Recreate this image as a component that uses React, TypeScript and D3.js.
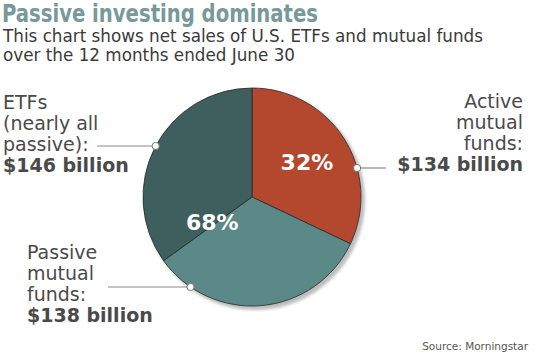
import React from 'react';
import * as d3 from 'd3';

const categories = ['Active mutual funds', 'Passive mutual funds', 'ETFs'];
const values = [134, 138, 146];
const labelLines = [['Active', 'mutual', 'funds:'], ['Passive', 'mutual', 'funds:'], ['ETFs', '(nearly all', 'passive):']];
const shareLabels = ['32%', '68%'];
const colors = ['#b4482e', '#5b8988', '#3f5e5e'];

const W = 550;
const H = 364;
const cx = 252;
const cy = 197;
const r = 109;
const font = "'DejaVu Sans', Verdana, sans-serif";

// label block layout: anchor x, first baseline, leader y, leader line end x
const labelPos = [
  { x: 523, y: 108, anchor: 'end', leadY: 168, lineX: 386 },
  { x: 27, y: 259, anchor: 'start', leadY: 287, lineX: 108 },
  { x: 3, y: 109, anchor: 'start', leadY: 146, lineX: 97 },
];
const lineH = 21;

export default function App() {
  const pie = d3.pie<number>().sort(null).value(d => d);
  const arcs = pie(values);
  const arc = d3.arc<d3.PieArcDatum<number>>().innerRadius(0).outerRadius(r);

  // 32% sits on the active slice, 68% on the combined passive slices
  const activeArc = arcs[0];
  const passiveArc = { startAngle: arcs[1].startAngle, endAngle: arcs[2].endAngle };
  const labelArcA = d3.arc().innerRadius(65).outerRadius(65);
  const labelArcP = d3.arc().innerRadius(47).outerRadius(47);
  const [ax, ay] = labelArcA.centroid(activeArc as any);
  const [px, py] = labelArcP.centroid(passiveArc as any);

  return (
    <div style={{ position: 'absolute', left: 0, top: 0 }}>
      <svg width={W} height={H} style={{ display: 'block', background: '#fff' }}>
        <defs>
          <filter id="sh" x="-20%" y="-20%" width="140%" height="140%">
            <feGaussianBlur stdDeviation="1.5" />
          </filter>
        </defs>
        <text x={2} y={22} fontFamily="'Liberation Sans Narrow', 'DejaVu Sans Condensed', 'Arial Narrow', sans-serif"
          fontStretch="condensed" fontWeight="bold" fontSize={25} fill="#789999" textLength={316} lengthAdjust="spacingAndGlyphs">
          Passive investing dominates
        </text>
        <text x={3} y={42} fontFamily={font} fontSize={16.8} fill="#3a3a3a">This chart shows net sales of U.S. ETFs and mutual funds</text>
        <text x={3} y={61} fontFamily={font} fontSize={16.8} fill="#3a3a3a">over the 12 months ended June 30</text>

        <circle cx={cx + 3} cy={cy + 3} r={r + 1} fill="#bdbdbd" filter="url(#sh)" />
        <g transform={`translate(${cx},${cy})`}>
          {arcs.map((a, i) => (
            <path key={categories[i]} d={arc(a) || ''} fill={colors[i]} stroke="#2a2a2a" strokeWidth={0.8} />
          ))}
          <text x={ax} y={ay + 8} textAnchor="middle" fontFamily={font} fontWeight="bold" fontSize={22} fill="#fff">{shareLabels[0]}</text>
          <text x={px} y={py + 8} textAnchor="middle" fontFamily={font} fontWeight="bold" fontSize={22} fill="#fff">{shareLabels[1]}</text>
        </g>

        {labelPos.map((p, i) => {
          const lines = labelLines[i];
          const ly = p.leadY;
          const dy = ly - cy;
          const dx = Math.sqrt(r * r - dy * dy);
          const dotX = p.anchor === 'end' ? cx + dx : cx - dx;
          return (
            <g key={categories[i]}>
              <line x1={p.lineX} x2={dotX} y1={ly} y2={ly} stroke="#8a8a8a" strokeWidth={1.2} />
              <circle cx={dotX} cy={ly} r={3.6} fill="#fff" stroke="#777" strokeWidth={1} />
              <text fontFamily={font} fontSize={19} fill="#4a4a4a" textAnchor={p.anchor}>
                {lines.map((l, j) => (
                  <tspan key={j} x={p.x} y={p.y + j * lineH}>{l}</tspan>
                ))}
                <tspan x={p.x} y={p.y + 3 * lineH} fontWeight="bold">{`$${values[i]} billion`}</tspan>
              </text>
            </g>
          );
        })}

        <text x={528} y={350} textAnchor="end" fontFamily={font} fontSize={10.5} fill="#555">Source: Morningstar</text>
      </svg>
    </div>
  );
}
